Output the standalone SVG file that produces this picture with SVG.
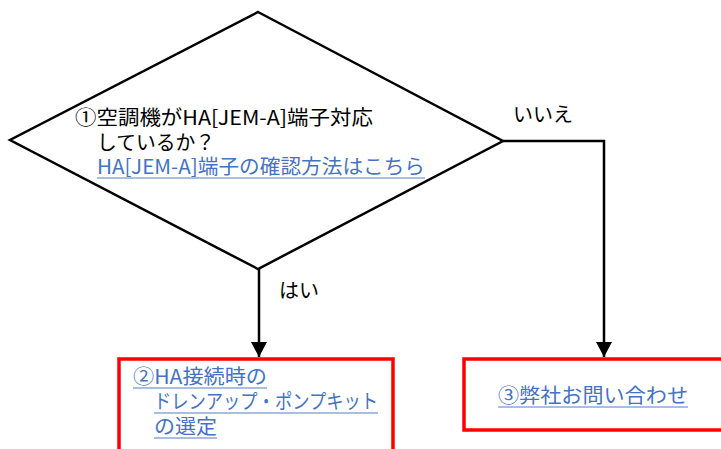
<svg xmlns="http://www.w3.org/2000/svg" width="721" height="449" viewBox="0 0 721 449">
<defs>
<style>
text{font-family:"Noto Sans CJK JP","Noto Sans CJK SC",sans-serif;font-size:20px;}
.t{fill:#000;}
.lk{fill:#4472C4;}
.ul{stroke:#8EA9DB;stroke-width:1.5;}
.ln{stroke:#000;stroke-width:2.5;fill:none;}
.box{fill:#fff;stroke:#FF0000;stroke-width:3.5;}
</style>
<marker id="arr" markerWidth="15" markerHeight="16" refX="15" refY="8" orient="auto" markerUnits="userSpaceOnUse" viewBox="0 0 15 16">
<path d="M0,0 L15,8 L0,16 Z" fill="#000"/>
</marker>
</defs>
<rect width="721" height="449" fill="#fff"/>
<g id="connectors">
<line class="ln" x1="259" y1="269" x2="259" y2="357" marker-end="url(#arr)"/>
<polyline class="ln" points="503,141 604,141 604,357" marker-end="url(#arr)"/>
<text class="t" x="279" y="298">はい</text>
<text class="t" x="513" y="122">いいえ</text>
</g>
<g id="decision">
<polygon points="258,12 503,141 258,269 10,140" fill="#fff" stroke="#000" stroke-width="2.5"/>
<text class="t" x="75" y="125" textLength="298" lengthAdjust="spacingAndGlyphs">①空調機がHA[JEM-A]端子対応</text>
<text class="t" x="97" y="150" textLength="118" lengthAdjust="spacingAndGlyphs">しているか？</text>
<text class="lk" x="97" y="174" textLength="328" lengthAdjust="spacingAndGlyphs">HA[JEM-A]端子の確認方法はこちら</text>
<line class="ul" x1="97" y1="178" x2="425" y2="178"/>
</g>
<g id="box2">
<rect class="box" x="119" y="359" width="274" height="100"/>
<text class="lk" x="133" y="384" textLength="134" lengthAdjust="spacingAndGlyphs">②HA接続時の</text>
<line class="ul" x1="133" y1="388" x2="267" y2="388"/>
<text class="lk" x="154" y="409" textLength="224" lengthAdjust="spacingAndGlyphs">ドレンアップ・ポンプキット</text>
<line class="ul" x1="154" y1="413" x2="378" y2="413"/>
<text class="lk" x="154" y="434" textLength="63" lengthAdjust="spacingAndGlyphs">の選定</text>
<line class="ul" x1="154" y1="438" x2="217" y2="438"/>
</g>
<g id="box3">
<rect class="box" x="464" y="359" width="280" height="71"/>
<text class="lk" x="498" y="403" textLength="190" lengthAdjust="spacingAndGlyphs">③弊社お問い合わせ</text>
<line class="ul" x1="498" y1="407" x2="688" y2="407"/>
</g>
</svg>
